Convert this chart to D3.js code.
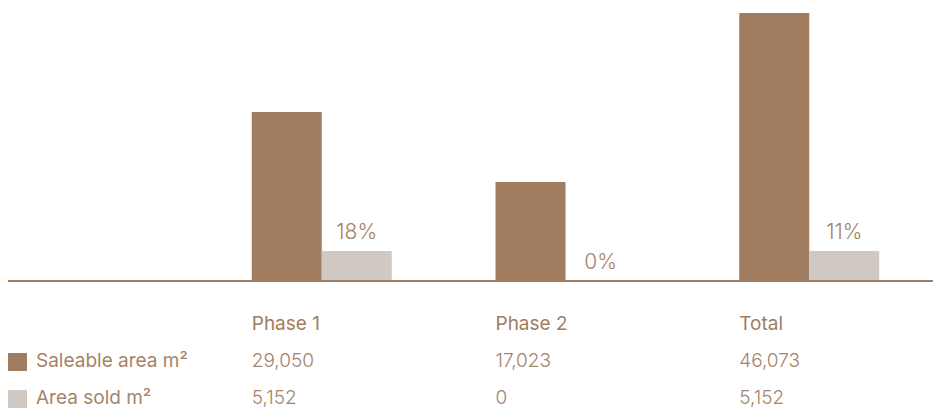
<!DOCTYPE html>
<html>
<head>
<meta charset="utf-8">
<script src="https://cdn.jsdelivr.net/npm/d3@7/dist/d3.min.js"></script>
<style>
  html, body { margin: 0; padding: 0; background: #fff; }
  svg { display: block; }
  text { font-family: Inter, Roboto, "Noto Sans", sans-serif; }
</style>
</head>
<body>
<svg id="chart" width="933" height="412"></svg>
<script>
// Sales progress by phase
const categories = ["Phase 1", "Phase 2", "Total"];
const saleableArea = [29050, 17023, 46073];
const areaSold = [5152, 0, 5152];
const soldShare = ["18%", "0%", "11%"];
const seriesNames = ["Saleable area m²", "Area sold m²"];

const W = 933, H = 412;
const brown = "#a07d60";
const grey = "#d0c8c2";
const textColor = "#a4846a";

const svg = d3.select("#chart");

// First band holds the legend column, the rest hold each category
const x = d3.scaleBand()
  .domain(["", ...categories])
  .range([8, 983])
  .paddingInner(0);

const barW = 70;
const baseY = 281;
const y = d3.scaleLinear()
  .domain([0, d3.max(saleableArea)])
  .range([baseY, 13]);

const rows = categories.map((c, i) => ({
  cat: c, saleable: saleableArea[i], sold: areaSold[i], share: soldShare[i]
}));

// Saleable area bars
svg.append("g").selectAll("rect")
  .data(rows)
  .join("rect")
  .attr("x", d => x(d.cat))
  .attr("y", d => y(d.saleable))
  .attr("width", barW)
  .attr("height", d => baseY - y(d.saleable))
  .attr("fill", brown);

// Area sold bars
svg.append("g").selectAll("rect")
  .data(rows)
  .join("rect")
  .attr("x", d => x(d.cat) + barW)
  .attr("y", d => y(d.sold))
  .attr("width", barW)
  .attr("height", d => baseY - y(d.sold))
  .attr("fill", grey);

// Share labels above the sold bars
svg.append("g").selectAll("text")
  .data(rows)
  .join("text")
  .attr("x", d => x(d.cat) + barW * 1.5)
  .attr("y", d => y(d.sold) - 12)
  .attr("text-anchor", "middle")
  .attr("font-size", 21)
  .attr("font-weight", 300)
  .attr("fill", textColor)
  .text(d => d.share);

// Baseline
svg.append("line")
  .attr("x1", 8).attr("x2", W)
  .attr("y1", baseY).attr("y2", baseY)
  .attr("stroke", brown)
  .attr("stroke-width", 2);

// Data table beneath the chart
const fmt = d3.format(",");
const table = svg.append("g");

table.selectAll("text.head")
  .data(categories)
  .join("text")
  .attr("class", "head")
  .attr("x", d => x(d))
  .attr("y", 330)
  .attr("font-size", 19)
  .attr("font-weight", 400)
  .attr("fill", brown)
  .text(d => d);

const series = [
  { name: seriesNames[0], values: saleableArea, color: brown, y: 367 },
  { name: seriesNames[1], values: areaSold, color: grey, y: 404 }
];

series.forEach(s => {
  table.append("rect")
    .attr("x", 8)
    .attr("y", s.y - 14)
    .attr("width", 19)
    .attr("height", 18)
    .attr("fill", s.color);

  table.append("text")
    .attr("x", 36)
    .attr("y", s.y)
    .attr("font-size", 19)
    .attr("font-weight", 400)
    .attr("fill", textColor)
    .text(s.name);

  table.selectAll(null)
    .data(s.values.map((v, i) => ({ v, cat: categories[i] })))
    .join("text")
    .attr("x", d => x(d.cat))
    .attr("y", s.y)
    .attr("font-size", 19)
    .attr("font-weight", 300)
    .attr("fill", textColor)
    .text(d => fmt(d.v));
});
</script>
</body>
</html>
